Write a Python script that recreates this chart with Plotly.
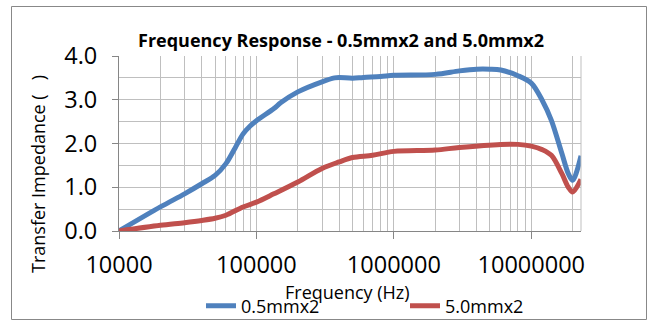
import plotly.graph_objects as go
import math

# ---- data ----
freq_05 = [1e4, 2e4, 3e4, 4e4, 5e4, 6e4, 7e4, 8e4, 9e4, 1e5, 1.34e5, 1.5e5, 2e5, 3e5, 3.7e5,
           4e5, 5e5, 6e5, 8e5, 1e6, 2e6, 3e6, 4e6, 5e6, 6e6, 8e6, 1e7, 1.2e7, 1.4e7,
           1.67e7, 1.86e7, 2.0e7, 2.3e7]
z_05 = [0.00, 0.55, 0.85, 1.08, 1.27, 1.54, 1.90, 2.22, 2.40, 2.52, 2.80, 2.93, 3.18, 3.41, 3.50,
        3.51, 3.49, 3.51, 3.53, 3.56, 3.58, 3.66, 3.70, 3.70, 3.68, 3.55, 3.38, 2.99, 2.53,
        1.77, 1.31, 1.16, 1.72]

freq_50 = [1e4, 2e4, 3e4, 4e4, 5e4, 6e4, 8e4, 1e5, 1.34e5, 2e5, 3e5, 4e5, 5e5, 7e5, 1e6,
           2e6, 3e6, 6e6, 8e6, 1e7, 1.2e7, 1.4e7, 1.67e7, 1.86e7, 2.0e7, 2.3e7]
z_50 = [0.00, 0.13, 0.19, 0.24, 0.29, 0.36, 0.55, 0.66, 0.85, 1.12, 1.43, 1.58, 1.68, 1.73, 1.82,
        1.85, 1.91, 1.98, 1.98, 1.94, 1.86, 1.73, 1.31, 1.00, 0.89, 1.18]

series_names = ["0.5mmx2", "5.0mmx2"]
x_major_ticks = [1e4, 1e5, 1e6, 1e7]
x_major_labels = ["10000", "100000", "1000000", "10000000"]
x_minor_ticks = [k * 10 ** n for n in range(4, 8) for k in range(2, 10) if k * 10 ** n < 2.3e7]
x_max = 2.3e7
y_range = [0, 4]

title_text = "Frequency Response - 0.5mmx2 and 5.0mmx2"
x_title = "Frequency (Hz)"
y_title = "Transfer Impedance (\u00a0\u00a0\u00a0)"

FONT = "Open Sans"
GRID = "#BFBFBF"
AXIS = "#868686"
PW, PH = 462, 175
L, T = 119, 56


def px(x):
    return (x - L) / PW


def py(y):
    return (T + PH - y) / PH


fig = go.Figure()
fig.add_trace(go.Scatter(x=freq_05, y=z_05, mode="lines", name=series_names[0], legend="legend",
                         line=dict(color="#4F81BD", width=5, shape="spline", smoothing=0.9)))
fig.add_trace(go.Scatter(x=freq_50, y=z_50, mode="lines", name=series_names[1], legend="legend2",
                         line=dict(color="#C0504D", width=5, shape="spline", smoothing=0.9)))

leg_common = dict(orientation="h", xanchor="left", yanchor="middle",
                  font=dict(family=FONT, size=18, color="black"),
                  bgcolor="rgba(0,0,0,0)", borderwidth=0)

fig.update_layout(
    width=652, height=320,
    margin=dict(l=L, r=652 - L - PW, t=T, b=320 - T - PH, autoexpand=False),
    paper_bgcolor="white", plot_bgcolor="white",
    font=dict(family=FONT, color="black"),
    showlegend=True,
    legend=dict(x=px(201), y=py(306), **leg_common),
    legend2=dict(x=px(405), y=py(306), **leg_common),
    xaxis=dict(type="log", range=[4, math.log10(x_max)], automargin=False,
               tickmode="array", tickvals=x_major_ticks, ticktext=x_major_labels,
               ticks="outside", ticklen=7, tickcolor=AXIS, tickwidth=1,
               ticklabelstandoff=6,
               showgrid=True, gridcolor=GRID, gridwidth=1,
               showline=True, linecolor=AXIS, linewidth=1,
               tickfont=dict(family=FONT, size=23.5, color="black"),
               minor=dict(tickmode="array", tickvals=x_minor_ticks, showgrid=True,
                          gridcolor=GRID, gridwidth=1, ticks=""),
               zeroline=False, fixedrange=True),
    yaxis=dict(range=y_range, tickmode="linear", tick0=0, dtick=1, tickformat=".1f",
               automargin=False,
               ticks="outside", ticklen=6, tickcolor=AXIS, tickwidth=1,
               ticklabelstandoff=10,
               showgrid=True, gridcolor=GRID, gridwidth=1,
               showline=True, linecolor=AXIS, linewidth=1,
               tickfont=dict(family=FONT, size=23.5, color="black"),
               minor=dict(dtick=0.5, showgrid=True, gridcolor=GRID, gridwidth=1, ticks=""),
               zeroline=False, fixedrange=True),
)

# right edge grid line of the plot area
fig.add_shape(type="line", xref="paper", yref="paper", x0=1, x1=1, y0=0, y1=1,
              line=dict(color=GRID, width=1))
# chart area border
fig.add_shape(type="rect", xref="paper", yref="paper",
              x0=px(11.5), x1=px(646.5), y0=py(319.5), y1=py(6.5),
              line=dict(color="#888888", width=1), fillcolor="rgba(0,0,0,0)", layer="below")

fig.add_annotation(text="<b>" + title_text + "</b>", xref="paper", yref="paper",
                   x=px(341), y=py(40), xanchor="center", yanchor="middle",
                   showarrow=False, font=dict(family=FONT, size=18, color="black"))
fig.add_annotation(text=x_title, xref="paper", yref="paper",
                   x=px(347), y=py(292), xanchor="center", yanchor="middle",
                   showarrow=False, font=dict(family=FONT, size=18, color="black"))
fig.add_annotation(text=y_title, xref="paper", yref="paper", textangle=-90,
                   x=px(38), y=py(174), xanchor="center", yanchor="middle",
                   showarrow=False, font=dict(family=FONT, size=18, color="black"))

fig.write_html("out.html", config={"displayModeBar": False, "staticPlot": True},
               post_script="document.body.style.margin='0';")
